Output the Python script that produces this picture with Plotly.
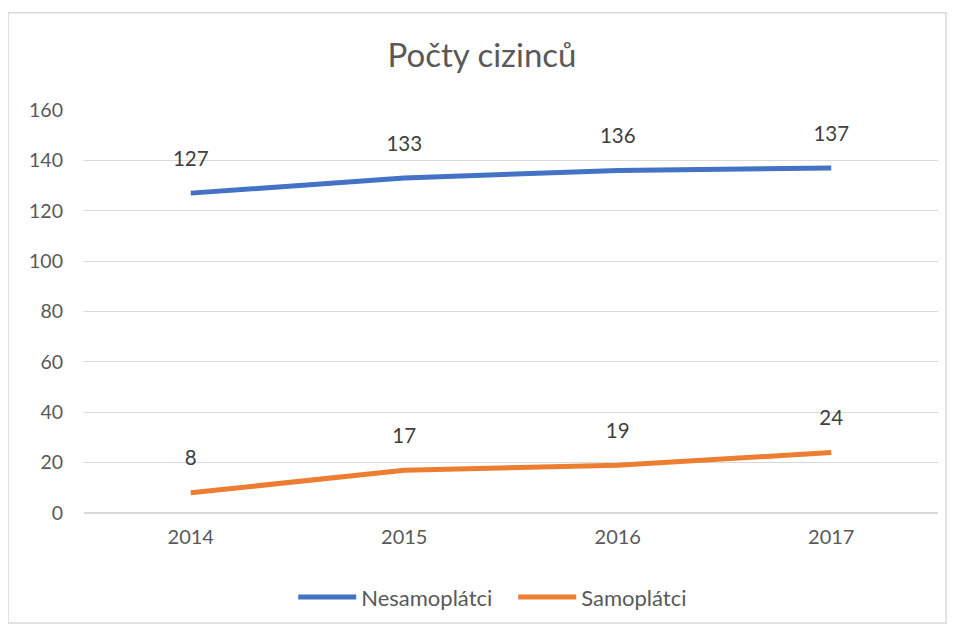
import plotly.graph_objs as go

years = ["2014", "2015", "2016", "2017"]
nesamoplatci = [127, 133, 136, 137]
samoplatci = [8, 17, 19, 24]

BLUE = "#4472C4"
ORANGE = "#ED7D31"
FONT = "Lato, 'Open Sans', sans-serif"

fig = go.Figure()
for name, values, color in [
    ("Nesamoplátci", nesamoplatci, BLUE),
    ("Samoplátci", samoplatci, ORANGE),
]:
    fig.add_trace(
        go.Scatter(
            x=years,
            y=values,
            name=name,
            mode="lines",
            line=dict(color=color, width=5),
            hoverinfo="skip",
        )
    )
    # data labels sit on invisible markers so they float above the line
    fig.add_trace(
        go.Scatter(
            x=years,
            y=values,
            name=name,
            mode="markers+text",
            marker=dict(size=34, color=color, opacity=0),
            text=[str(v) for v in values],
            textposition="top center",
            textfont=dict(size=20.5, color="#404040", family=FONT),
            showlegend=False,
        )
    )

# outer chart border, like an Excel chart frame
fig.add_shape(
    type="rect",
    xref="paper",
    yref="paper",
    x0=-0.089,
    x1=1.0094,
    y0=-0.273,
    y1=1.2413,
    line=dict(color="#D9D9D9", width=1.5),
)

# browser body margin shifts the page by 8px, so the figure is a bit smaller
fig.update_layout(
    width=948,
    height=622,
    margin=dict(l=76, r=18, t=102, b=114),
    paper_bgcolor="white",
    plot_bgcolor="white",
    font=dict(family=FONT, color="#595959"),
    title=dict(
        text="Počty cizinců",
        x=0.5,
        xanchor="center",
        y=0.9244,
        yanchor="middle",
        font=dict(size=33, color="#595959", family=FONT),
    ),
    xaxis=dict(
        type="category",
        range=[-0.5, 3.5],
        showgrid=False,
        showline=False,
        ticks="",
        tickfont=dict(size=20, color="#595959"),
        ticklabelstandoff=10,
    ),
    yaxis=dict(
        range=[0, 160],
        dtick=20,
        showgrid=True,
        gridcolor="#D9D9D9",
        gridwidth=1,
        zeroline=True,
        zerolinecolor="#D9D9D9",
        zerolinewidth=1.5,
        showline=False,
        ticks="",
        ticklabelstandoff=20,
        tickfont=dict(size=19.5, color="#595959"),
    ),
    legend=dict(
        orientation="h",
        x=0.245,
        xanchor="left",
        y=-0.209,
        yanchor="middle",
        font=dict(size=22, color="#595959"),
        itemwidth=58,
        entrywidth=147,
        entrywidthmode="pixels",
        traceorder="normal",
    ),
    showlegend=True,
)

fig.write_html("out.html")
